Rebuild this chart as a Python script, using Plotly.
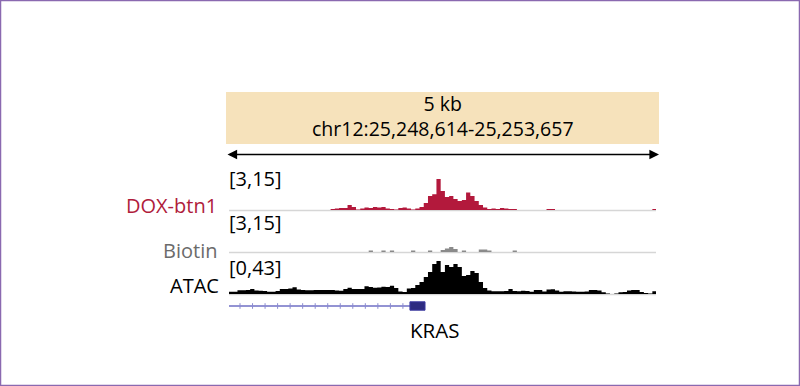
import numpy as np
import plotly.graph_objects as go

# ---- data ----
region_start = 25248614
region_end = 25253657
bin_size = 50
region_label = "chr12:25,248,614-25,253,657"
scale_label = "5 kb"

track_names = ["DOX-btn1", "Biotin", "ATAC"]
track_ranges = ["[3,15]", "[3,15]", "[0,43]"]

dox_values = [0, 0, 0, 0, 0, 0, 0, 0, 0, 0, 0, 0, 0, 0, 0, 0, 0, 0, 0, 0,
              0, 0, 0, 0, 3.35, 3.5, 3.7, 3.7, 4.8, 4.1, 3.2, 3.5, 3.9, 3.7, 4.1, 3.9,
              4.1, 3.5, 3.35, 3.2, 3.7, 3.9, 3.5, 3.2, 3.5, 4.1, 5.5, 7.9, 8.6, 13.9,
              9.7, 7.6, 7.9, 6.9, 6.2, 6.5, 9.2, 7.9, 6.2, 4.8, 3.9, 3.35, 3.5, 3.35,
              3.7, 3.5, 3.35, 3.35, 0, 0, 0, 0, 0, 0, 0, 3.35, 3.35, 0, 0, 0,
              0, 0, 0, 0, 0, 0, 0, 0, 0, 0, 0, 0, 0, 0, 0, 0, 0, 0, 0, 0, 3.35]

biotin_values = [0] * 33 + [3.5, 0, 0, 3.5, 0, 3.5, 0, 0, 0, 0, 3.5, 0, 0, 0, 3.5, 0, 0,
                 3.7, 4.2, 4.8, 4.1, 0, 3.5, 0, 0, 0, 3.9, 3.9, 3.5, 0, 0, 0, 0, 0, 3.5,
                 0, 0, 0, 0, 0, 0, 0, 0, 0, 0, 0, 0, 0, 0, 0, 0, 0, 0, 0, 0, 0, 0, 0, 0,
                 0, 0, 0, 0, 0, 0, 0, 0, 0, 3.5, 3.5, 0, 0]

atac_values = [2.8, 2.8, 4.5, 4.5, 4.9, 6.2, 4.3, 4.1, 3.7, 2.8, 2.8, 3.7, 6.2, 6.2, 6.8,
               8.2, 5.5, 4.9, 4.5, 4.5, 4.9, 4.9, 4.9, 4.9, 4.9, 4.3, 4.1, 6.2, 7.7, 6.2,
               6.2, 6.2, 9.5, 8.6, 7.7, 8.0, 9.0, 8.6, 10.2, 7.4, 3.1, 2.5, 6.8, 7.4, 11.1,
               14.8, 20.9, 27.1, 36.9, 40.6, 27.1, 35.7, 33.2, 36.9, 33.2, 22.1, 23.4, 28.3,
               25.8, 14.8, 7.4, 4.3, 3.3, 3.3, 3.3, 3.7, 6.2, 3.7, 3.3, 4.1, 3.7, 2.8, 4.9,
               4.9, 3.1, 5.5, 5.8, 4.3, 2.8, 3.3, 3.3, 3.1, 2.8, 2.8, 3.1, 4.9, 4.9, 4.3,
               2.1, 0.6, 0, 0.6, 2.1, 2.5, 4.3, 4.9, 4.9, 2.5, 1.2, 0.6, 3.3]

gene_name = "KRAS"
gene_start = 25205246
exon_start = 25250751
exon_end = 25250929

# ---- layout helpers (pixel -> paper) ----
W, H = 800, 386
def px(x):
    return x / W
def py(y):
    return 1 - y / H

bin_starts = region_start + bin_size * np.arange(len(atac_values))
bin_x = list(bin_starts) + [region_start + bin_size * len(atac_values)]

def step(vals):
    return list(vals) + [vals[-1]]

fig = go.Figure()

track_cfg = [
    ("y", dox_values, "#b3193c", [3, 15], (176, 210)),
    ("y2", biotin_values, "#8a8a8a", [3, 15], (218, 252)),
    ("y3", atac_values, "#000000", [0, 43], (259, 294)),
]

for yax, vals, col, rng, _ in track_cfg:
    fig.add_trace(go.Scatter(
        x=bin_x, y=step(vals), mode="lines", line=dict(width=0, shape="hv", color=col),
        fill="tozeroy", fillcolor=col, yaxis=yax, xaxis="x", hoverinfo="skip",
        showlegend=False))

# gene track
fig.add_trace(go.Scatter(
    x=[gene_start, exon_start], y=[0, 0], mode="lines",
    line=dict(color="#6f6fc4", width=1.5), yaxis="y4", xaxis="x",
    showlegend=False, hoverinfo="skip"))
tick_pos = np.arange(region_start + 130, exon_start - 60, 148)
fig.add_trace(go.Scatter(
    x=tick_pos, y=[0] * len(tick_pos), mode="markers",
    marker=dict(symbol="line-ns", size=4, line=dict(color="#8a8ad0", width=1)),
    yaxis="y4", xaxis="x", showlegend=False, hoverinfo="skip"))
fig.add_trace(go.Scatter(
    x=[exon_start, exon_end, exon_end, exon_start, exon_start],
    y=[-0.42, -0.42, 0.42, 0.42, -0.42], mode="lines", fill="toself",
    fillcolor="#2d2b80", line=dict(color="#3a38a0", width=1),
    yaxis="y4", xaxis="x", showlegend=False, hoverinfo="skip"))

hidden = dict(visible=False, fixedrange=True)
layout = dict(
    width=W, height=H, margin=dict(l=0, r=0, t=0, b=0),
    paper_bgcolor="white", plot_bgcolor="rgba(0,0,0,0)",
    font=dict(family="Open Sans", color="#000000"),
    xaxis=dict(domain=[px(229), px(656)], range=[region_start, region_end], **hidden),
    showlegend=False,
)
for i, (yax, vals, col, rng, (top, bot)) in enumerate(track_cfg):
    key = "yaxis" if yax == "y" else "yaxis" + yax[1:]
    layout[key] = dict(domain=[py(bot), py(top)], range=rng, anchor="x", **hidden)
layout["yaxis4"] = dict(domain=[py(316), py(296)], range=[-1, 1], anchor="x", **hidden)
fig.update_layout(**layout)

# baselines
for yax, vals, col, rng, (top, bot) in track_cfg:
    fig.add_shape(type="line", xref="paper", yref="paper", x0=px(229), x1=px(656),
                  y0=py(bot + 0.5), y1=py(bot + 0.5), line=dict(color="#d6d6d6", width=1.5),
                  layer="below")

# header box
fig.add_shape(type="rect", xref="paper", yref="paper", x0=px(226), x1=px(659),
              y0=py(144), y1=py(92), fillcolor="#f6e2bb", line=dict(width=0), layer="below")
# border
fig.add_shape(type="rect", xref="paper", yref="paper", x0=px(0.5), x1=px(799.5),
              y0=py(385.5), y1=py(0.5), line=dict(color="#8a69b0", width=1.5))

# double-headed arrow
fig.add_annotation(xref="paper", yref="paper", axref="pixel", ayref="pixel",
                   x=px(659), y=py(154.5), ax=-(659 - 226), ay=0, text="",
                   showarrow=True, arrowhead=2, startarrowhead=2, arrowside="end+start",
                   arrowsize=1.2, startarrowsize=1.2, arrowwidth=1.6, arrowcolor="#000000")

def label(text, x, y, size, color="#000000", xanchor="center"):
    fig.add_annotation(xref="paper", yref="paper", x=px(x), y=py(y), text=text,
                       showarrow=False, xanchor=xanchor, yanchor="middle",
                       font=dict(size=size, color=color, family="Open Sans"))

label(scale_label + "<br>" + region_label, 442.5, 116.5, 19.5)
label(track_ranges[0], 227, 178, 20, xanchor="left")
label(track_names[0], 219, 205, 20, color="#b01c3c", xanchor="right")
label(track_ranges[1], 227, 222.5, 20, xanchor="left")
label(track_names[1], 219, 250.5, 20, color="#6b6b6b", xanchor="right")
label(track_ranges[2], 227, 267.5, 20, xanchor="left")
label(track_names[2], 221, 285.5, 20, xanchor="right")
label(gene_name, 435, 329.5, 20.5)

fig.write_html("out.html", config={"displayModeBar": False},
               post_script="document.body.style.margin='0';")
